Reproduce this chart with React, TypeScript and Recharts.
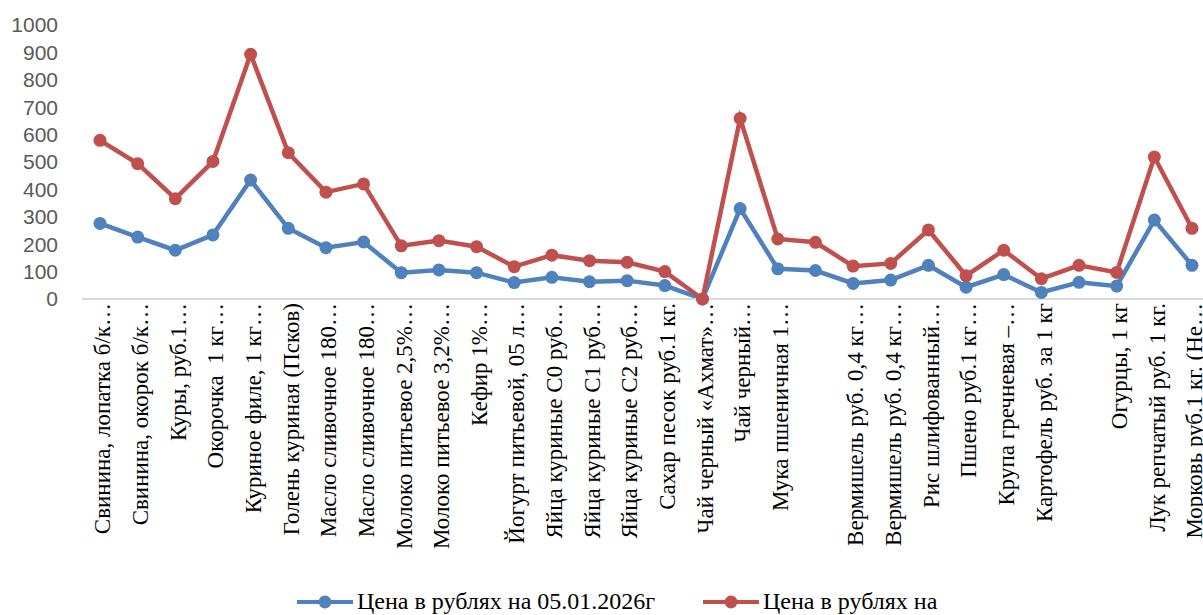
import React from "react";
import { LineChart, Line, XAxis, YAxis, Legend } from "recharts";

const categories = [
  "Свинина, лопатка б/к…",
  "Свинина, окорок б/к…",
  "Куры, руб.1…",
  "Окорочка  1 кг…",
  "Куриное филе, 1 кг…",
  "Голень куриная (Псков)",
  "Масло сливочное 180…",
  "Масло сливочное 180…",
  "Молоко питьевое 2,5%…",
  "Молоко питьевое 3,2%…",
  "Кефир 1%…",
  "Йогурт питьевой, 05 л…",
  "Яйца куриные С0 руб…",
  "Яйца куриные С1 руб…",
  "Яйца куриные С2 руб…",
  "Сахар песок руб.1 кг.",
  "Чай черный «Ахмат»…",
  "Чай черный…",
  "Мука пшеничная 1…",
  "",
  "Вермишель руб. 0,4 кг…",
  "Вермишель руб. 0,4 кг…",
  "Рис шлифованный…",
  "Пшено руб.1 кг…",
  "Крупа гречневая –…",
  "Картофель руб. за 1 кг",
  "",
  "Огурцы, 1 кг",
  "Лук репчатый руб. 1 кг.",
  "Морковь руб.1 кг. (Не…",
];

const priceJan05 = [
  276, 226, 178, 234, 434, 258, 187, 208, 96, 106, 96, 60, 79, 63, 67, 49, 0,
  330, 110, 104, 57, 69, 123, 43, 89, 24, 61, 47, 288, 123,
];

const priceLater = [
  579, 494, 366, 502, 893, 534, 390, 420, 194, 213, 191, 118, 160, 140, 134,
  100, 0, 659, 219, 207, 120, 130, 252, 85, 178, 74, 123, 97, 518, 258,
];

const yTicks = [0, 100, 200, 300, 400, 500, 600, 700, 800, 900, 1000];

const seriesNames = ["Цена в рублях на 05.01.2026г", "Цена в рублях на"];
const seriesColors = ["#4f81bd", "#c0504d"];

const data = categories.map((name, i) => ({
  name,
  jan05: priceJan05[i],
  later: priceLater[i],
}));

const serif = '"Liberation Serif", "Times New Roman", serif';

function CategoryTick({ x, y, payload }: any) {
  return (
    <text
      transform={`translate(${x + 2},${y + 2}) rotate(-90)`}
      textAnchor="end"
      dy="0.36em"
      fontFamily={serif}
      fontSize={23}
      fill="#000"
      style={{ whiteSpace: "pre" }}
    >
      {payload.value}
    </text>
  );
}

function LegendContent() {
  return (
    <div
      style={{
        display: "flex",
        alignItems: "center",
        paddingLeft: 297,
        height: 27,
        fontFamily: serif,
        fontSize: 24,
        color: "#000",
      }}
    >
      {seriesNames.map((n, i) => (
        <div
          key={n}
          style={{
            display: "flex",
            alignItems: "center",
            flexShrink: 0,
            width: i === 0 ? 406 : 260,
          }}
        >
          <svg width={56} height={14} style={{ flexShrink: 0, marginRight: 4 }}>
            <line x1={0} y1={7} x2={56} y2={7} stroke={seriesColors[i]} strokeWidth={4} />
            <circle cx={28} cy={7} r={6.5} fill={seriesColors[i]} />
          </svg>
          <span style={{ whiteSpace: "nowrap" }}>{n}</span>
        </div>
      ))}
    </div>
  );
}

export default function App() {
  return (
    <div style={{ position: "absolute", left: 0, top: 0, background: "#fff" }}>
      <LineChart
        width={1203}
        height={615}
        data={data}
        margin={{ top: 25, right: 0, bottom: 0, left: 0 }}
      >
        <XAxis
          dataKey="name"
          interval={0}
          height={289}
          padding={{ left: 18, right: 11 }}
          axisLine={{ stroke: "#d9d9d9", strokeWidth: 2 }}
          tickLine={false}
          tickSize={0}
          tick={<CategoryTick />}
        />
        <YAxis
          domain={[0, 1000]}
          ticks={yTicks}
          interval={0}
          width={82}
          axisLine={false}
          tickLine={false}
          tickSize={0}
          tickMargin={24}
          tick={{ fill: "#595959", fontSize: 21, fontFamily: '"Liberation Sans", Arial, sans-serif' }}
        />
        <Legend
          verticalAlign="bottom"
          content={<LegendContent />}
          wrapperStyle={{ left: 0, width: 1203, height: 27 }}
        />
        <Line
          dataKey="jan05"
          name={seriesNames[0]}
          stroke={seriesColors[0]}
          strokeWidth={4.5}
          dot={{ r: 6.5, fill: seriesColors[0], stroke: seriesColors[0], strokeWidth: 0 }}
          isAnimationActive={false}
        />
        <Line
          dataKey="later"
          name={seriesNames[1]}
          stroke={seriesColors[1]}
          strokeWidth={4.5}
          dot={{ r: 6.5, fill: seriesColors[1], stroke: seriesColors[1], strokeWidth: 0 }}
          isAnimationActive={false}
        />
      </LineChart>
    </div>
  );
}
